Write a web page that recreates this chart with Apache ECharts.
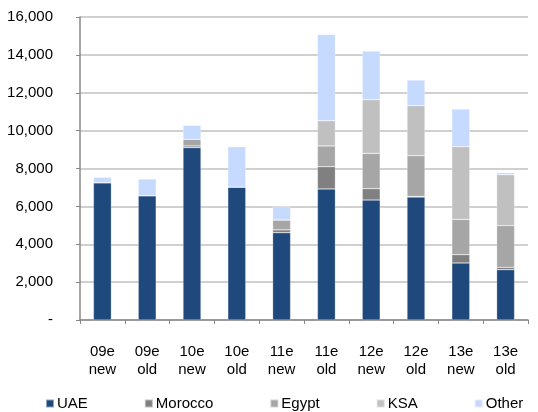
<!DOCTYPE html>
<html>
<head>
<meta charset="utf-8">
<script src="https://cdn.jsdelivr.net/npm/echarts@6/dist/echarts.min.js"></script>
<style>
  html, body { margin: 0; padding: 0; background: #fff; }
  #chart { width: 538px; height: 412px; }
</style>
</head>
<body>
<div id="chart"></div>
<script>
// categories and series
const categories = ['09e\nnew', '09e\nold', '10e\nnew', '10e\nold', '11e\nnew', '11e\nold', '12e\nnew', '12e\nold', '13e\nnew', '13e\nold'];
const uae     = [7250, 6565, 9100, 7020, 4610, 6920, 6335, 6495, 3010, 2655];
const morocco = [0, 0, 90, 0, 150, 1175, 600, 30, 440, 125];
const egypt   = [0, 0, 350, 0, 520, 1095, 1865, 2150, 1865, 2200];
const ksa     = [0, 0, 0, 0, 0, 1330, 2830, 2640, 3835, 2690];
const other   = [285, 880, 740, 2130, 720, 4560, 2570, 1355, 1990, 110];

const names = ['UAE', 'Morocco', 'Egypt', 'KSA', 'Other'];
const colors = ['#1F497D', '#808080', '#A6A6A6', '#C0C0C0', '#C6D9FE'];
const values = [uae, morocco, egypt, ksa, other];

const chart = echarts.init(document.getElementById('chart'));

const series = names.map((name, i) => ({
  name: name,
  type: 'bar',
  stack: 'total',
  barWidth: '40%',
  data: values[i],
  itemStyle: { color: colors[i], borderColor: 'rgba(255,255,255,0.5)', borderWidth: 0.5 }
}));

chart.setOption({
  animation: false,
  color: colors,
  textStyle: { fontFamily: 'Liberation Sans, Arial, sans-serif' },
  grid: { left: 80, right: 10, top: 17, bottom: 92 },
  legend: {
    data: names,
    left: 45,
    top: 396,
    padding: 0,
    itemWidth: 8,
    itemHeight: 8,
    itemGap: 56,
    icon: 'rect',
    textStyle: { fontSize: 15, color: '#000', padding: [0, 0, 0, -2] }
  },
  xAxis: {
    type: 'category',
    data: categories,
    axisLine: { lineStyle: { color: '#888', width: 1.5 } },
    axisTick: { show: true, length: 4, lineStyle: { color: '#888' } },
    axisLabel: { color: '#000', fontSize: 15, lineHeight: 18, margin: 23 }
  },
  yAxis: {
    type: 'value',
    min: 0,
    max: 16000,
    interval: 2000,
    axisLine: { show: true, lineStyle: { color: '#888', width: 1.5 } },
    axisTick: { show: true, length: 4, lineStyle: { color: '#888' } },
    splitLine: { lineStyle: { color: '#C0C0C0', width: 1.5 } },
    axisLabel: {
      color: '#000',
      fontSize: 15,
      margin: 27,
      formatter: v => v === 0 ? '-' : v.toLocaleString('en-US')
    }
  },
  series: series
});
</script>
</body>
</html>
